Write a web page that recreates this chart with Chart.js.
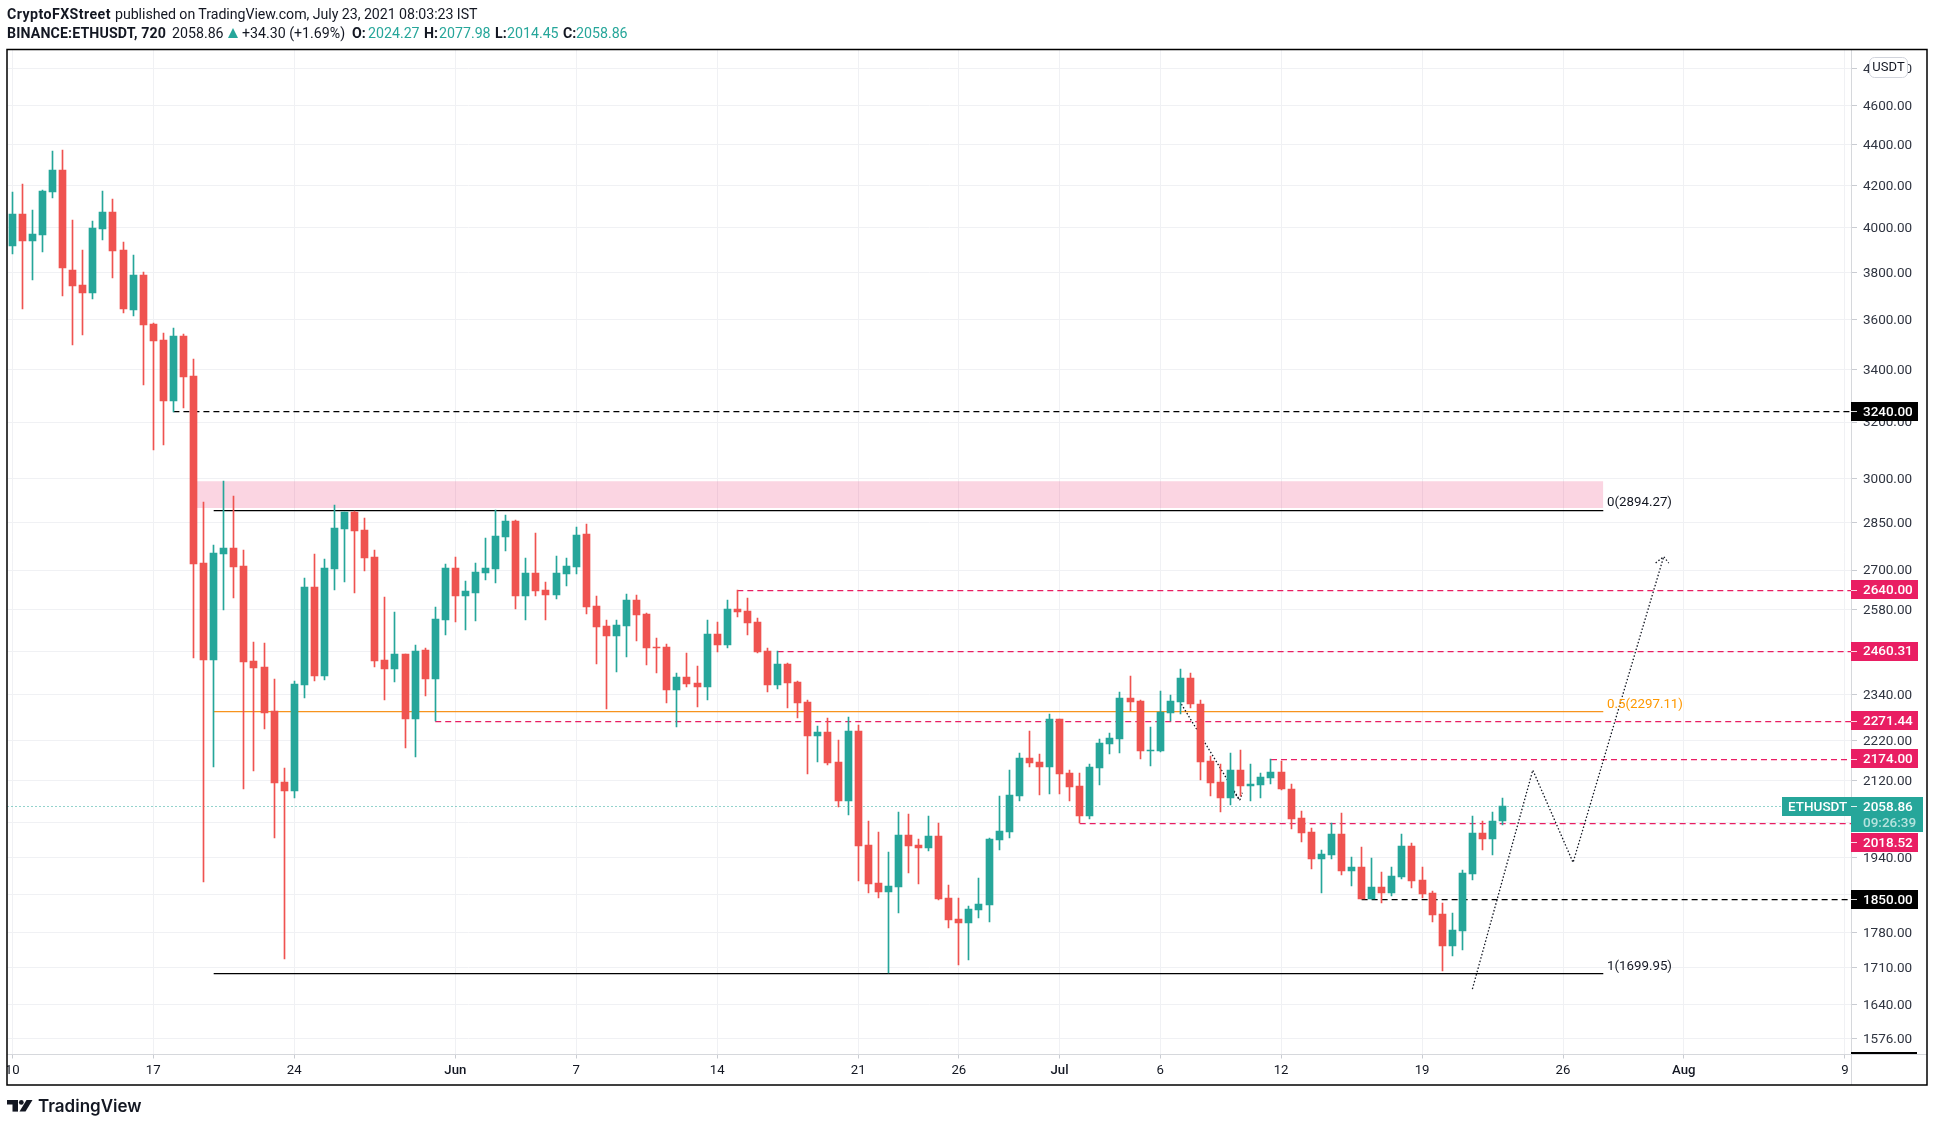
<!DOCTYPE html>
<html><head><meta charset="utf-8">
<style>
html,body{margin:0;padding:0;background:#fff;width:1935px;height:1127px;overflow:hidden}
canvas{position:absolute;left:0;top:0}
.h{position:absolute;font-family:Roboto,sans-serif;font-size:14.2px;line-height:18px;color:#131722;white-space:nowrap}
.b{font-weight:700}.g{color:#26a69a}
#tri{position:absolute;left:228px;top:28px;width:0;height:0;border-left:5px solid transparent;border-right:5px solid transparent;border-bottom:10px solid #26a69a}
</style>
<script src="https://cdn.jsdelivr.net/npm/chart.js@4"></script>
</head><body>
<canvas id="c" width="1935" height="1127"></canvas>
<span class="h b" style="left:7px;top:5px;letter-spacing:.43px">CryptoFXStreet</span>
<span class="h" style="left:115px;top:5px;letter-spacing:-.05px">published on TradingView.com, July 23, 2021 08:03:23 IST</span>
<span class="h b" style="left:7px;top:24px;letter-spacing:.13px">BINANCE:ETHUSDT, 720</span>
<span class="h" style="left:172px;top:24px">2058.86</span><i id="tri"></i>
<span class="h" style="left:242px;top:24px">+34.30 (+1.69%)</span>
<span class="h b" style="left:352px;top:24px">O:</span><span class="h g" style="left:368px;top:24px">2024.27</span>
<span class="h b" style="left:424px;top:24px">H:</span><span class="h g" style="left:439px;top:24px">2077.98</span>
<span class="h b" style="left:495px;top:24px">L:</span><span class="h g" style="left:507px;top:24px">2014.45</span>
<span class="h b" style="left:563px;top:24px">C:</span><span class="h g" style="left:576px;top:24px">2058.86</span>
<script>
const opens=[3916,4062,3939,3965,4166,4273,3810,3744,3710,3993,4071,3898,3639,3788,3581,3515,3278,3532,3373,2722,2435,2750,2769,2712,2432,2415,2296,2117,2095,2366,2648,2391,2703,2830,2886,2827,2740,2435,2410,2452,2275,2463,2382,2549,2706,2620,2630,2691,2703,2804,2856,2620,2691,2638,2623,2688,2709,2814,2591,2532,2503,2532,2608,2567,2471,2471,2352,2388,2371,2361,2509,2477,2582,2576,2543,2460,2366,2424,2374,2320,2231,2242,2166,2071,2244,1969,1885,1866,1877,1992,1969,1962,1990,1853,1809,1800,1828,1838,1980,1999,2083,2176,2166,2153,2275,2139,2107,2036,2151,2211,2224,2331,2323,2193,2193,2291,2320,2385,2315,2168,2117,2078,2146,2107,2109,2126,2141,2100,2031,1999,1938,1947,1994,1911,1920,1851,1877,1864,1898,1967,1892,1864,1819,1754,1784,1905,1996,1983,2024.27];
const highs=[4166,4205,4081,4176,4367,4372,4034,3898,4030,4171,4133,3934,3876,3800,3585,3544,3565,3540,3440,2919,2778,2990,2939,2763,2485,2483,2382,2151,2377,2675,2750,2734,2909,2886,2889,2866,2763,2617,2573,2452,2477,2469,2587,2719,2740,2666,2722,2801,2892,2876,2859,2737,2817,2663,2744,2737,2836,2846,2620,2549,2549,2626,2623,2570,2497,2480,2399,2455,2418,2549,2543,2608,2638,2614,2555,2469,2460,2426,2377,2326,2257,2278,2221,2281,2260,2024,1999,1953,2045,2040,1983,2036,2019,1881,1853,1836,1896,1985,2083,2146,2188,2244,2186,2289,2275,2146,2139,2161,2224,2239,2347,2391,2326,2255,2350,2339,2410,2399,2326,2181,2161,2188,2196,2161,2139,2173,2168,2112,2047,2008,1958,2019,2043,1942,1965,1940,1909,1920,1994,1974,1920,1868,1842,1821,1913,2036,2024,2045,2077.98];
const lows=[3880,3643,3767,3889,4137,3698,3495,3536,3685,3943,3775,3626,3614,3339,3099,3116,3237,3252,2440,1887,2153,2579,2614,2100,2144,2249,1985,1728,2078,2331,2377,2380,2638,2663,2630,2697,2415,2326,2374,2201,2178,2336,2270,2506,2543,2520,2546,2669,2660,2759,2582,2549,2620,2549,2611,2651,2688,2567,2424,2302,2402,2443,2489,2421,2399,2318,2255,2361,2307,2326,2457,2469,2558,2506,2455,2347,2355,2304,2278,2136,2166,2158,2057,2038,1889,1864,1853,1700,1821,1907,1883,1955,1849,1790,1716,1726,1811,1802,1958,1985,2071,2153,2085,2088,2088,2071,2019,2029,2109,2186,2188,2296,2173,2156,2191,2270,2289,2304,2121,2083,2045,2061,2083,2071,2078,2112,2097,2006,1976,1916,1864,1938,1902,1878,1851,1851,1842,1857,1894,1874,1853,1802,1704,1734,1746,1892,1958,1947,2014.45];
const closes=[4062,3939,3970,4171,4273,3818,3740,3710,3997,4071,3893,3643,3788,3577,3511,3278,3532,3369,2719,2435,2753,2769,2709,2429,2413,2291,2114,2095,2369,2648,2391,2706,2833,2886,2823,2737,2432,2410,2452,2275,2460,2382,2552,2706,2620,2635,2694,2706,2807,2856,2620,2691,2635,2623,2691,2712,2810,2588,2529,2503,2535,2608,2564,2469,2469,2352,2388,2369,2361,2509,2477,2582,2573,2540,2457,2366,2424,2371,2318,2231,2242,2163,2071,2244,1967,1883,1866,1879,1992,1967,1962,1990,1851,1807,1800,1830,1840,1983,2001,2085,2176,2163,2153,2275,2136,2104,2036,2153,2214,2226,2331,2320,2193,2196,2294,2323,2385,2315,2166,2114,2078,2146,2107,2112,2129,2141,2100,2029,1996,1938,1949,1994,1911,1920,1851,1877,1864,1900,1967,1889,1862,1817,1754,1786,1907,1996,1983,2024,2058.86];

const yTicks=[4800,4600,4400,4200,4000,3800,3600,3400,3200,3000,2850,2700,2580,2460,2340,2220,2120,2020,1940,1860,1780,1710,1640,1576];
const xTicks=[0,14,28,44,56,70,84,94,104,114,126,140,154,166,182];
const xTickLabels=['10','17','24','Jun','7','14','21','26','Jul','6','12','19','26','Aug','9'];

const xMin=-0.477, xMax=182.6, yMin=1548.2, yMax=4908;
const lastPrice=2058.86;

const pinkLevels=[2640,2460.31,2271.44,2174,2018.52];
const pinkStarts=[72,76,42,125,106];
const blackLevels=[3240,1850];
const blackStarts=[16,134];
const fibLevels=[2894.27,2297.11,1699.95];
const fibStart=20, fibEnd=158;
const zoneTop=2990, zoneBottom=2899, zoneStart=18;
const badgeDark=[3240,1850];
const badgePink=[2640,2460.31,2271.44,2174];
const pathAX=[145,151,155,164], pathAY=[1669,2146,1930,2742];
const pathBX=[116.1,121.9], pathBY=[2315,2073];
const arrowAX=[163.2,164,164.5], arrowAY=[2722,2742,2722];
const arrowBX=[121.3,121.9,122.15], arrowBY=[2093,2073,2091];

const UP='#26a69a', DOWN='#ef5350', PINK='#e91e63', ORANGE='#ff9800', INK='#131722';
const colors=closes.map((c,i)=>c>=opens[i]?UP:DOWN);
const pts=(xs,ys)=>xs.map((x,i)=>({x,y:ys[i]}));
const hline=(y,a,b,color,dash,ord,w=1.25)=>({type:'line',data:[{x:a,y},{x:b,y}],borderColor:color,borderWidth:w,borderDash:dash,pointRadius:0,tension:0,fill:false,order:ord,snap:true});

const datasets=[
 {type:'line',data:[{x:zoneStart,y:zoneTop},{x:fibEnd,y:zoneTop}],borderWidth:0,borderColor:'transparent',pointRadius:0,backgroundColor:'rgba(233,30,99,0.19)',fill:'+1',order:10},
 {type:'line',data:[{x:zoneStart,y:zoneBottom},{x:fibEnd,y:zoneBottom}],borderWidth:0,borderColor:'transparent',pointRadius:0,fill:false,order:10},
 hline(lastPrice,xMin,xMax,UP,[1,3],6,1.2),
 ...pinkLevels.map((v,i)=>hline(v,pinkStarts[i],xMax,PINK,[6,4],5)),
 ...blackLevels.map((v,i)=>hline(v,blackStarts[i],xMax,'#000',[6,4],5)),
 hline(fibLevels[0],fibStart,fibEnd,'#000',[],5),
 hline(fibLevels[1],fibStart,fibEnd,'#f7941d',[],5),
 hline(fibLevels[2],fibStart,fibEnd,'#000',[],5),
 ...[[pathAX,pathAY],[arrowAX,arrowAY],[pathBX,pathBY],[arrowBX,arrowBY]].map(([xs,ys])=>({type:'line',data:pts(xs,ys),borderColor:INK,borderWidth:1.3,borderDash:[1.5,2],pointRadius:0,tension:0,fill:false,order:4})),
 {type:'bar',data:lows.map((l,i)=>({x:i,y:[l,highs[i]]})),backgroundColor:colors,barThickness:1,grouped:false,order:2,snapBar:true},
 {type:'bar',data:opens.map((o,i)=>({x:i,y:[o,closes[i]]})),backgroundColor:colors,barThickness:7,grouped:false,order:1,snapBar:true}
];

const snapPlugin={id:'snap',afterDatasetsUpdate(chart){
 chart.data.datasets.forEach((d,k)=>{
  const m=chart.getDatasetMeta(k);
  if(d.snapBar) m.data.forEach(el=>{el.x=Math.floor(el.x)+0.5;el.y=Math.round(el.y);el.base=Math.round(el.base);});
  if(d.snap) m.data.forEach(el=>{el.y=Math.round(el.y)+0.5;});
 });
}};

function box(ctx,x,y,w,h,color){ctx.fillStyle=color;ctx.fillRect(x,y,w,h);}
const overlay={id:'overlay',afterDraw(chart){
 const ctx=chart.ctx, ys=chart.scales.y, a=chart.chartArea;
 const R=a.right, B=a.bottom, font='500 13.5px Roboto, sans-serif';
 ctx.save();
 ctx.textBaseline='middle';ctx.textAlign='left';
 // axis rules
 box(ctx,0,B+1,7,31,'#fff');
 box(ctx,7,Math.floor(B),1920,1,'#d6d8dc');
 box(ctx,Math.floor(R),50,1,1035,'#d6d8dc');
 box(ctx,1851,1052,66,2,'#000');
 // frame
 ctx.strokeStyle='#000';ctx.lineWidth=1.5;ctx.strokeRect(7,49.5,1920,1035.5);
 const badge=(v,text,color,dy=0)=>{
  const y=ys.getPixelForValue(v)+dy;
  box(ctx,1851,Math.round(y-9.5),67,19,color);
  box(ctx,1851,Math.round(y),6,1,'rgba(255,255,255,.85)');
  ctx.fillStyle='#fff';ctx.font=font;ctx.fillText(text,1863,y+1);
 };
 badgeDark.forEach(v=>badge(v,v.toFixed(2),'#000'));
 badgePink.forEach(v=>badge(v,v.toFixed(2),PINK));
 // last price
 const ly=ys.getPixelForValue(lastPrice);
 badge(pinkLevels[4],pinkLevels[4].toFixed(2),PINK,19);
 box(ctx,1782,Math.round(ly-9.5),69,19,UP);
 box(ctx,1851,Math.round(ly-9.5),72,35,UP);
 box(ctx,1851,Math.round(ly),6,1,'rgba(255,255,255,.85)');
 ctx.fillStyle='#fff';ctx.font=font;
 ctx.fillText('ETHUSDT',1788,ly+1);ctx.fillText(lastPrice.toFixed(2),1863,ly+1);
 ctx.fillStyle='#b5e3de';ctx.fillText('09:26:39',1863,ly+17);
 // fib text
 ctx.font='13.3px Roboto, sans-serif';
 const fibX=1607;
 ctx.fillStyle=INK;ctx.fillText('0('+fibLevels[0].toFixed(2)+')',fibX,ys.getPixelForValue(fibLevels[0])-6.5);
 ctx.fillStyle=ORANGE;ctx.fillText('0.5('+fibLevels[1].toFixed(2)+')',fibX,ys.getPixelForValue(fibLevels[1])-6.5);
 ctx.fillStyle=INK;ctx.fillText('1('+fibLevels[2].toFixed(2)+')',fibX,ys.getPixelForValue(fibLevels[2])-6.5);
 // currency badge
 ctx.beginPath();ctx.roundRect(1869.5,57.5,38,20,5);ctx.fillStyle='#fff';ctx.fill();ctx.strokeStyle='#d1d4dc';ctx.lineWidth=1;ctx.stroke();
 ctx.fillStyle=INK;ctx.font='13px Roboto, sans-serif';ctx.textAlign='center';ctx.fillText('USDT',1888.5,68);
 // brand
 ctx.fillStyle=INK;
 ctx.fillRect(7,1100,11,4.5);ctx.fillRect(12.5,1100,5.5,11.6);
 ctx.beginPath();ctx.arc(21.3,1102.4,2.4,0,7);ctx.fill();
 ctx.beginPath();ctx.moveTo(26.5,1100);ctx.lineTo(32.5,1100);ctx.lineTo(25.5,1111.6);ctx.lineTo(19.5,1111.6);ctx.closePath();ctx.fill();
 ctx.textAlign='left';ctx.font='600 17px Inter, sans-serif';ctx.fillText('TradingView',38,1107);
 ctx.restore();
}};

new Chart(document.getElementById('c'),{
 type:'bar',
 data:{datasets},
 plugins:[snapPlugin,overlay],
 options:{
  responsive:false,animation:false,events:[],devicePixelRatio:1,
  parsing:true,normalized:false,
  layout:{padding:{left:7.5,top:49.5,right:8,bottom:42}},
  plugins:{legend:{display:false},tooltip:{enabled:false},filler:{propagate:false}},
  scales:{
   x:{type:'linear',min:xMin,max:xMax,offset:false,bounds:'data',
    grid:{offset:false,color:'#f0f1f4',lineWidth:1,tickLength:4,tickColor:'#c9ccd2',drawOnChartArea:true},
    border:{display:false},
    afterBuildTicks(s){s.ticks=xTicks.map(value=>({value}));},
    afterFit(s){s.height=30.5;s.paddingLeft=0;s.paddingRight=0;},
    ticks:{autoSkip:false,maxRotation:0,minRotation:0,padding:4,color:INK,
     font:c=>({family:'Roboto, sans-serif',size:13.2,weight:/[A-Z]/.test(xTickLabels[c.index]||'')?'500':'400'}),
     callback:(v,i)=>xTickLabels[i]}},
   y:{type:'logarithmic',position:'right',min:yMin,max:yMax,bounds:'data',
    grid:{color:'#f0f1f4',lineWidth:1,tickLength:6,tickColor:'#c9ccd2'},
    border:{display:false},
    afterBuildTicks(s){s.ticks=yTicks.map(value=>({value}));},
    afterFit(s){s.width=76;s.paddingTop=0;s.paddingBottom=0;},
    ticks:{autoSkip:false,padding:6,labelOffset:1,color:'#2f3440',crossAlign:'near',font:{family:'Roboto, sans-serif',size:13.5},
     callback:v=>Number(v).toFixed(2)}}
  }
 }
});
</script>
</body></html>
